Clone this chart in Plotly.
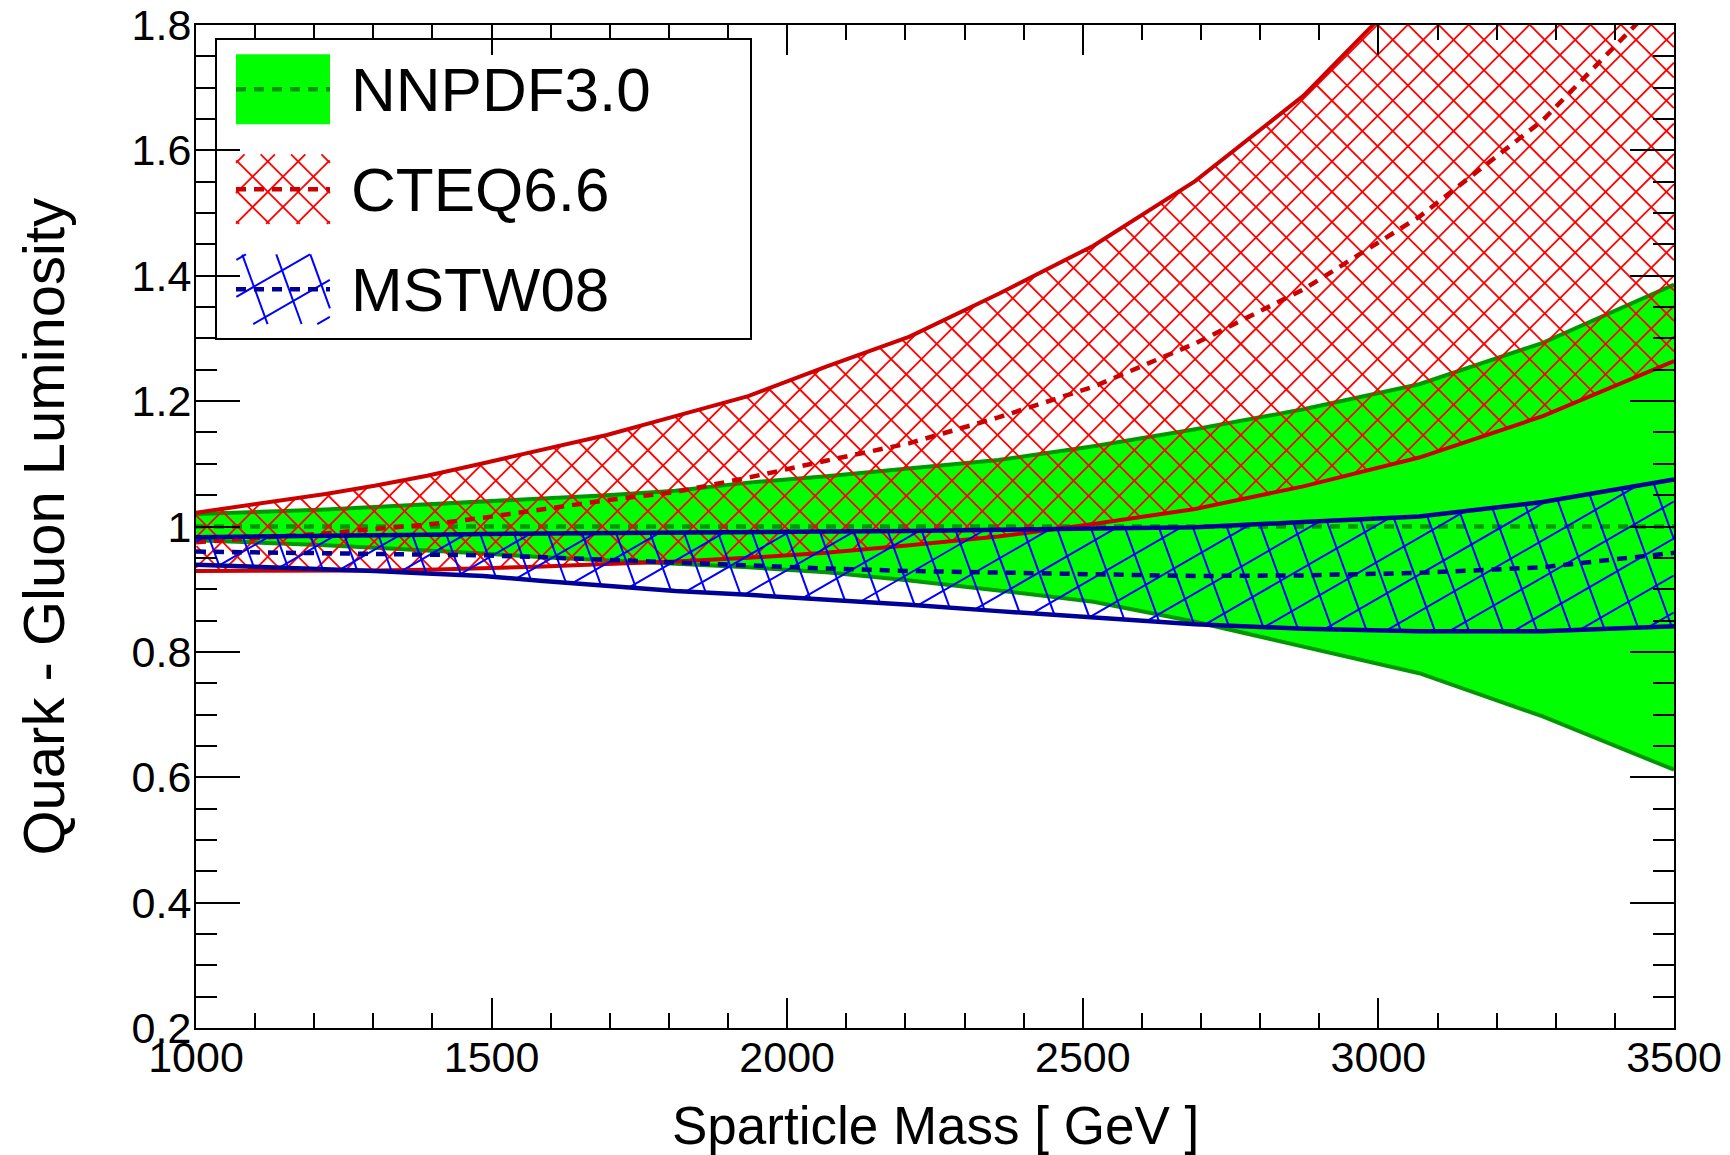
import numpy as np
import plotly.graph_objects as go

# ---------------- data ----------------
mass = [1000, 1068, 1141, 1219, 1302, 1391, 1486, 1587, 1695, 1811,
        1934, 2066, 2207, 2357, 2518, 2690, 2873, 3069, 3278, 3500]

nnpdf_up = [1.020, 1.022, 1.025, 1.027, 1.031, 1.035, 1.040, 1.045, 1.050, 1.057,
            1.070, 1.080, 1.092, 1.106, 1.128, 1.155, 1.187, 1.227, 1.293, 1.386]
nnpdf_mid = [1.000, 1.000, 1.000, 1.000, 1.000, 1.000, 1.000, 1.000, 1.000, 1.000,
             1.000, 1.000, 1.000, 1.000, 1.000, 1.000, 1.000, 1.000, 1.000, 1.000]
nnpdf_lo = [0.978, 0.976, 0.973, 0.970, 0.966, 0.962, 0.957, 0.951, 0.946, 0.940,
            0.935, 0.927, 0.914, 0.898, 0.880, 0.848, 0.809, 0.766, 0.697, 0.612]

cteq_up = [1.022, 1.031, 1.041, 1.052, 1.065, 1.081, 1.101, 1.122, 1.146, 1.176,
           1.208, 1.255, 1.303, 1.371, 1.448, 1.551, 1.687, 1.875, 2.100, 2.350]
cteq_mid = [0.975, 0.979, 0.983, 0.989, 0.996, 1.003, 1.014, 1.028, 1.042, 1.055,
            1.078, 1.105, 1.133, 1.174, 1.223, 1.292, 1.378, 1.494, 1.648, 1.863]
cteq_lo = [0.929, 0.929, 0.929, 0.929, 0.930, 0.931, 0.933, 0.936, 0.940, 0.944,
           0.950, 0.958, 0.970, 0.984, 1.004, 1.028, 1.064, 1.110, 1.176, 1.264]

mstw_up = [0.983, 0.984, 0.985, 0.986, 0.986, 0.987, 0.988, 0.989, 0.990, 0.991,
           0.992, 0.992, 0.993, 0.995, 0.997, 0.999, 1.007, 1.016, 1.039, 1.075]
mstw_mid = [0.960, 0.959, 0.958, 0.957, 0.957, 0.956, 0.954, 0.951, 0.947, 0.942,
            0.937, 0.933, 0.929, 0.926, 0.923, 0.921, 0.922, 0.926, 0.935, 0.958]
mstw_lo = [0.939, 0.937, 0.934, 0.931, 0.929, 0.925, 0.921, 0.913, 0.905, 0.897,
           0.891, 0.884, 0.875, 0.865, 0.855, 0.844, 0.837, 0.833, 0.833, 0.841]

labels = ["NNPDF3.0", "CTEQ6.6", "MSTW08"]
x_tickvals = [1000, 1500, 2000, 2500, 3000, 3500]
x_ticktext = ["1000", "1500", "2000", "2500", "3000", "3500"]
y_tickvals = [0.2, 0.4, 0.6, 0.8, 1.0, 1.2, 1.4, 1.6, 1.8]
y_ticktext = ["0.2", "0.4", "0.6", "0.8", "1", "1.2", "1.4", "1.6", "1.8"]

# ---------------- style ----------------
W, H = 1730, 1155
ML, MR, MT, MB = 196, 56, 25, 127
PW, PH = W - ML - MR, H - MT - MB
XR = [1000, 3500]
YR = [0.2, 1.8]
SX = PW / (XR[1] - XR[0])
SY = PH / (YR[1] - YR[0])

FONT = "Liberation Sans, Arial, Helvetica, sans-serif"
G_FILL, G_LINE = "#00ff00", "rgb(0,150,0)"
R_HATCH, R_LINE = "#ff0000", "#cc0000"
B_HATCH, B_LINE = "#0000ff", "#000099"
DASH = "10px,8px"


def hatch(xv, lo, hi, angle, spacing, phase=0.0, step=0.5):
    """Straight hatch lines (pixel space, y up) clipped to the band lo<=y<=hi."""
    xv, lo, hi = np.asarray(xv, float), np.asarray(lo, float), np.asarray(hi, float)
    th = np.deg2rad(angle)
    d = np.array([np.cos(th), np.sin(th)])
    n = np.array([-np.sin(th), np.cos(th)])
    x0, x1 = xv.min(), xv.max()
    y0, y1 = min(lo.min(), hi.min()), max(lo.max(), hi.max())
    corners = np.array([[x0, y0], [x0, y1], [x1, y0], [x1, y1]])
    cp, tp = corners @ n, corners @ d
    cs = np.arange(np.floor((cp.min() - phase) / spacing) * spacing + phase,
                   cp.max() + spacing, spacing)
    t = np.arange(tp.min() - 2, tp.max() + 2, step)
    X, Y = [], []
    for c in cs:
        px = c * n[0] + t * d[0]
        py = c * n[1] + t * d[1]
        ins = (px >= x0) & (px <= x1)
        ins &= (py >= np.interp(px, xv, lo)) & (py <= np.interp(px, xv, hi))
        if not ins.any():
            continue
        edges = np.flatnonzero(np.diff(np.concatenate([[0], ins.astype(int), [0]])))
        for s, e in zip(edges[0::2], edges[1::2] - 1):
            if e > s:
                X += [px[s], px[e], None]
                Y += [py[s], py[e], None]
    return X, Y


def to_px(m, v):
    return (np.asarray(m, float) - XR[0]) * SX, (np.asarray(v, float) - YR[0]) * SY


def data_hatch(lo, hi, angle, spacing, phase=0.0):
    X, lo_p = to_px(mass, lo)
    _, hi_p = to_px(mass, hi)
    hx, hy = hatch(X, lo_p, hi_p, angle, spacing, phase)
    xs = [None if a is None else a / SX + XR[0] for a in hx]
    ys = [None if b is None else b / SY + YR[0] for b in hy]
    return xs, ys


fig = go.Figure()

def line(x, y, color, width, dash="solid", xa="x", ya="y"):
    fig.add_trace(go.Scatter(x=x, y=y, mode="lines", xaxis=xa, yaxis=ya,
                             line=dict(color=color, width=width, dash=dash),
                             hoverinfo="skip", showlegend=False))

# NNPDF band
fig.add_trace(go.Scatter(x=mass + mass[::-1], y=nnpdf_lo + nnpdf_up[::-1],
                         fill="toself", fillcolor=G_FILL, mode="lines",
                         line=dict(width=0), hoverinfo="skip", showlegend=False))
line(mass, nnpdf_up, G_LINE, 4)
line(mass, nnpdf_lo, G_LINE, 4)
line(mass, nnpdf_mid, G_LINE, 4.5, DASH)

# CTEQ band
for ang in (45, 135):
    hx, hy = data_hatch(cteq_lo, cteq_up, ang, 21.5, 3.0)
    line(hx, hy, R_HATCH, 1.8)
line(mass, cteq_up, R_LINE, 4)
line(mass, cteq_lo, R_LINE, 4)
line(mass, cteq_mid, R_LINE, 4.5, DASH)

# MSTW band
for ang, ph in ((30, 5.0), (110, 12.0)):
    hx, hy = data_hatch(mstw_lo, mstw_up, ang, 32.0, ph)
    line(hx, hy, B_HATCH, 2)
line(mass, mstw_up, B_LINE, 4.5)
line(mass, mstw_lo, B_LINE, 4.5)
line(mass, mstw_mid, B_LINE, 4.5, DASH)

# ---------------- legend (drawn on a pixel overlay axis) ----------------
LBOX = dict(x0=20, x1=555, y0=689, y1=989)
SYM_X = [40, 134]
ROWS = [938.7, 838.7, 738.7]
SYM_H = 35
# NNPDF symbol
yc = ROWS[0]
fig.add_trace(go.Scatter(x=[SYM_X[0], SYM_X[1], SYM_X[1], SYM_X[0], SYM_X[0]],
                         y=[yc - SYM_H, yc - SYM_H, yc + SYM_H, yc + SYM_H, yc - SYM_H],
                         xaxis="x2", yaxis="y2", fill="toself", fillcolor=G_FILL,
                         mode="lines", line=dict(width=0), hoverinfo="skip", showlegend=False))
line(SYM_X, [yc, yc], G_LINE, 4.5, DASH, "x2", "y2")
# CTEQ symbol
yc = ROWS[1]
for ang in (45, 135):
    hx, hy = hatch(SYM_X, [yc - SYM_H] * 2, [yc + SYM_H] * 2, ang, 21.5, 3.0)
    line(hx, hy, R_HATCH, 1.8, "solid", "x2", "y2")
line(SYM_X, [yc, yc], R_LINE, 4.5, DASH, "x2", "y2")
# MSTW symbol
yc = ROWS[2]
for ang, ph in ((30, 5.0), (110, 12.0)):
    hx, hy = hatch(SYM_X, [yc - SYM_H] * 2, [yc + SYM_H] * 2, ang, 32.0, ph)
    line(hx, hy, B_HATCH, 2, "solid", "x2", "y2")
line(SYM_X, [yc, yc], B_LINE, 4.5, DASH, "x2", "y2")

shapes = [dict(type="rect", xref="x2", yref="y2", layer="below",
               fillcolor="white", line=dict(color="black", width=2), **LBOX)]

annotations = []
for lab, yc in zip(labels, ROWS):
    annotations.append(dict(text=lab, xref="x2", yref="y2", x=153, y=yc,
                            xanchor="left", yanchor="middle", showarrow=False,
                            font=dict(family=FONT, size=62, color="black")))
annotations.append(dict(text="Sparticle Mass [ GeV ]", xref="paper", yref="paper",
                        x=0.5, y=-0.0968, xanchor="center", yanchor="middle",
                        showarrow=False, font=dict(family=FONT, size=53, color="black")))
annotations.append(dict(text="Quark - Gluon Luminosity", xref="paper", yref="paper",
                        x=-0.1035, y=0.5, xanchor="center", yanchor="middle",
                        textangle=-90, showarrow=False,
                        font=dict(family=FONT, size=58, color="black")))

axis_common = dict(showline=True, linecolor="black", linewidth=2, mirror="allticks",
                   ticks="inside", tickwidth=2, tickcolor="black", showgrid=False,
                   zeroline=False, automargin=False,
                   tickfont=dict(family=FONT, size=43, color="black"))

fig.update_layout(
    template="none",
    width=W, height=H,
    margin=dict(l=ML, r=MR, t=MT, b=MB, autoexpand=False),
    paper_bgcolor="white", plot_bgcolor="white",
    showlegend=False,
    font=dict(family=FONT, color="black"),
    xaxis=dict(range=XR, tickmode="array", tickvals=x_tickvals, ticktext=x_ticktext,
               ticklen=30,
               minor=dict(ticks="inside", ticklen=15, tickwidth=2, tickcolor="black",
                          tickmode="linear", tick0=1000, dtick=100),
               **axis_common),
    yaxis=dict(range=YR, tickmode="array", tickvals=y_tickvals, ticktext=y_ticktext,
               ticklen=44,
               minor=dict(ticks="inside", ticklen=21, tickwidth=2, tickcolor="black",
                          tickmode="linear", tick0=0.2, dtick=0.05),
               **axis_common),
    xaxis2=dict(overlaying="x", range=[0, PW], visible=False, fixedrange=True,
                automargin=False),
    yaxis2=dict(overlaying="y", range=[0, PH], visible=False, fixedrange=True,
                automargin=False),
    shapes=shapes,
    annotations=annotations,
)

# pull tick labels a little closer to the frame, as in the reference
try:
    fig.layout.xaxis.ticklabelstandoff = -10
    fig.layout.yaxis.ticklabelstandoff = -6
except Exception:
    pass

fig.write_html("out.html")
